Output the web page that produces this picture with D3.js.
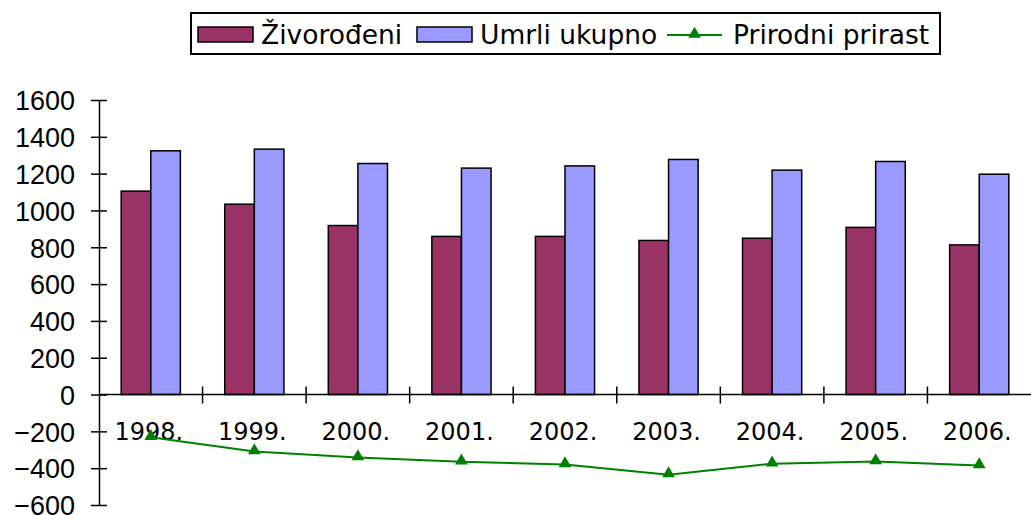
<!DOCTYPE html>
<html lang="hr">
<head>
    <meta charset="UTF-8">
    <title>Živorođeni i umrli</title>
    <script src="https://d3js.org/d3.v7.min.js"></script>
    <style>
        body { margin: 0; background: #fff; }
        svg { display: block; font-family: "DejaVu Sans", Verdana, sans-serif; }
        .tick text { font-size: 27px; fill: #000; }
        .year { font-size: 24px; fill: #000; }
        .legend text { font-size: 26.5px; fill: #000; }
    </style>
</head>
<body>
    <svg id="chart"></svg>

    <script>
        // podaci
        const years = ["1998.", "1999.", "2000.", "2001.", "2002.", "2003.", "2004.", "2005.", "2006."];
        const zivorodeni = [1105, 1034, 918, 859, 859, 837, 849, 908, 813];
        const umrli = [1324, 1333, 1255, 1230, 1242, 1277, 1219, 1266, 1197];
        const prirast = [-232, -310, -342, -365, -380, -435, -376, -364, -386];
        const yTicks = [-600, -400, -200, 0, 200, 400, 600, 800, 1000, 1200, 1400, 1600];

        const seriesKeys = ["zivorodeni", "umrli"];
        const colors = { zivorodeni: "#993366", umrli: "#9999ff", prirast: "#008000" };

        const width = 1031, height = 515;
        const svg = d3.select("#chart").attr("width", width).attr("height", height);

        const x0 = d3.scaleBand().domain(years).range([99, 1031]).padding(0);
        const x1 = d3.scaleBand().domain(seriesKeys).range([0, x0.bandwidth()])
            .paddingInner(0).paddingOuter(0.75);
        const y = d3.scaleLinear().domain([-600, 1600]).range([505, 100]);

        const rows = years.map((yr, i) => ({ year: yr, zivorodeni: zivorodeni[i], umrli: umrli[i], prirast: prirast[i] }));

        // stupci
        const groups = svg.append("g")
            .selectAll("g")
            .data(rows)
            .join("g")
            .attr("transform", d => `translate(${x0(d.year)},0)`);

        groups.selectAll("rect")
            .data(d => seriesKeys.map(k => ({ key: k, value: d[k] })))
            .join("rect")
            .attr("x", d => x1(d.key))
            .attr("width", x1.bandwidth())
            .attr("y", d => y(d.value))
            .attr("height", d => y(0) - y(d.value))
            .attr("fill", d => colors[d.key])
            .attr("stroke", "#000")
            .attr("stroke-width", 1.5);

        // y os
        const yAxis = svg.append("g")
            .attr("transform", "translate(99,0)")
            .call(d3.axisLeft(y).tickValues(yTicks).tickFormat(d3.format("d"))
                .tickSizeOuter(0).tickSizeInner(8).tickPadding(16));
        yAxis.select(".domain").attr("stroke", "#000").attr("stroke-width", 1.5);
        yAxis.selectAll(".tick line").attr("x1", -8).attr("x2", 8).attr("stroke-width", 1.5);
        yAxis.selectAll(".tick text").attr("font-family", null).attr("font-size", null).attr("dy", "0.36em");

        // x os na nuli
        const xAxis = svg.append("g").attr("transform", `translate(0,${y(0)})`);
        xAxis.append("line")
            .attr("x1", x0.range()[0]).attr("x2", x0.range()[1])
            .attr("stroke", "#000").attr("stroke-width", 1.5);
        xAxis.selectAll(".xt")
            .data(years.slice(1))
            .join("line")
            .attr("class", "xt")
            .attr("x1", d => x0(d)).attr("x2", d => x0(d))
            .attr("y1", -8).attr("y2", 9)
            .attr("stroke", "#000").attr("stroke-width", 1.5);

        svg.append("g")
            .selectAll("text")
            .data(years)
            .join("text")
            .attr("class", "year")
            .attr("x", d => x0(d) + x0.bandwidth() / 2 - 2)
            .attr("y", 440)
            .attr("text-anchor", "middle")
            .text(d => d);

        // linija prirodnog prirasta
        const cx = d => x0(d.year) + x0.bandwidth() / 2;
        const line = d3.line().x(cx).y(d => y(d.prirast));
        svg.append("path")
            .datum(rows)
            .attr("d", line)
            .attr("fill", "none")
            .attr("stroke", colors.prirast)
            .attr("stroke-width", 2);

        const tri = d3.symbol().type(d3.symbolTriangle).size(70);
        svg.append("g")
            .selectAll("path")
            .data(rows)
            .join("path")
            .attr("d", tri)
            .attr("transform", d => `translate(${cx(d)},${y(d.prirast) - 1})`)
            .attr("fill", colors.prirast);

        // legenda
        const legend = svg.append("g").attr("class", "legend");
        legend.append("rect")
            .attr("x", 191).attr("y", 13).attr("width", 749).attr("height", 41)
            .attr("fill", "#fff").attr("stroke", "#000").attr("stroke-width", 2);

        const legBars = [
            { key: "zivorodeni", label: "Živorođeni", sx: 198, tx: 261 },
            { key: "umrli", label: "Umrli ukupno", sx: 417, tx: 480 }
        ];
        legBars.forEach(l => {
            legend.append("rect")
                .attr("x", l.sx).attr("y", 27).attr("width", 55).attr("height", 15)
                .attr("fill", colors[l.key]).attr("stroke", "#000").attr("stroke-width", 1.5);
            legend.append("text").attr("x", l.tx).attr("y", 44).text(l.label);
        });
        legend.append("line")
            .attr("x1", 667).attr("x2", 722).attr("y1", 35).attr("y2", 35)
            .attr("stroke", colors.prirast).attr("stroke-width", 2);
        legend.append("path")
            .attr("d", tri)
            .attr("transform", "translate(694.5,34)")
            .attr("fill", colors.prirast);
        legend.append("text").attr("x", 733).attr("y", 44).text("Prirodni prirast");
    </script>
</body>
</html>
